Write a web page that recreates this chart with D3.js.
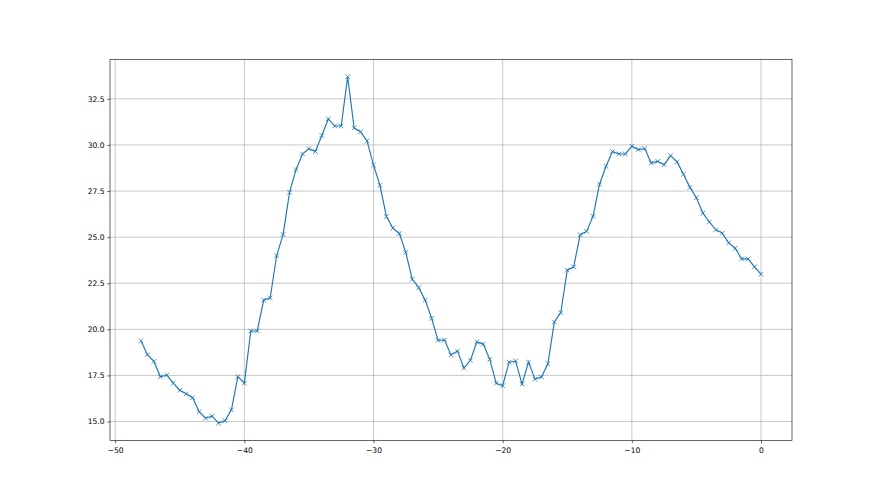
<!DOCTYPE html>
<html>
<head>
<meta charset="utf-8">
<script src="https://cdn.jsdelivr.net/npm/d3@7"></script>
<style>
  body { margin: 0; background: #fff; }
  svg { display: block; }
  .tick text { font-family: "DejaVu Sans", sans-serif; font-size: 7.6px; fill: #000; }
</style>
</head>
<body>
<div id="chart"></div>
<script>
const width = 880;
const height = 495;
const margin = {top: 59.4, right: 88, bottom: 54.5, left: 110};

// x positions: -48 .. 0 every half step
const xValues = [
  -48, -47.5, -47, -46.5, -46, -45.5, -45, -44.5, -44, -43.5, -43, -42.5, -42, -41.5, -41, -40.5,
  -40, -39.5, -39, -38.5, -38, -37.5, -37, -36.5, -36, -35.5, -35, -34.5, -34, -33.5, -33, -32.5,
  -32, -31.5, -31, -30.5, -30, -29.5, -29, -28.5, -28, -27.5, -27, -26.5, -26, -25.5, -25, -24.5,
  -24, -23.5, -23, -22.5, -22, -21.5, -21, -20.5, -20, -19.5, -19, -18.5, -18, -17.5, -17, -16.5,
  -16, -15.5, -15, -14.5, -14, -13.5, -13, -12.5, -12, -11.5, -11, -10.5, -10, -9.5, -9, -8.5,
  -8, -7.5, -7, -6.5, -6, -5.5, -5, -4.5, -4, -3.5, -3, -2.5, -2, -1.5, -1, -0.5, 0
];

const yValues = [
  19.38, 18.62, 18.26, 17.43, 17.52, 17.08, 16.70, 16.50, 16.29, 15.53, 15.18, 15.29, 14.91, 15.04, 15.63, 17.43,
  17.08, 19.91, 19.91, 21.59, 21.70, 23.99, 25.14, 27.43, 28.66, 29.51, 29.80, 29.64, 30.51, 31.41, 31.03, 31.03,
  33.70, 30.92, 30.72, 30.22, 28.91, 27.81, 26.12, 25.49, 25.20, 24.17, 22.72, 22.26, 21.59, 20.60, 19.40, 19.42,
  18.61, 18.82, 17.90, 18.32, 19.31, 19.20, 18.37, 17.08, 16.94, 18.22, 18.28, 17.03, 18.22, 17.30, 17.41, 18.13,
  20.40, 20.91, 23.21, 23.39, 25.13, 25.31, 26.14, 27.87, 28.84, 29.64, 29.51, 29.51, 29.93, 29.75, 29.80, 29.02,
  29.11, 28.93, 29.42, 29.08, 28.41, 27.70, 27.14, 26.30, 25.82, 25.40, 25.22, 24.69, 24.40, 23.82, 23.82, 23.39, 22.99
];

const xTicks = [-50, -40, -30, -20, -10, 0];
const yTicks = [15, 17.5, 20, 22.5, 25, 27.5, 30, 32.5];

const data = xValues.map((x, i) => ({x: x, y: yValues[i]}));

const innerW = width - margin.left - margin.right;
const innerH = height - margin.top - margin.bottom;

// matplotlib style 5% margins
function padded(ext) {
  const d = (ext[1] - ext[0]) * 0.05;
  return [ext[0] - d, ext[1] + d];
}

const x = d3.scaleLinear()
  .domain(padded(d3.extent(xValues)))
  .range([0, innerW]);

const y = d3.scaleLinear()
  .domain(padded(d3.extent(yValues)))
  .range([innerH, 0]);

const svg = d3.select("#chart")
  .append("svg")
    .attr("width", width)
    .attr("height", height)
  .append("g")
    .attr("transform", "translate(" + margin.left + "," + margin.top + ")");

// grid
svg.append("g")
  .selectAll("line")
  .data(xTicks)
  .enter()
  .append("line")
    .attr("x1", d => x(d)).attr("x2", d => x(d))
    .attr("y1", 0).attr("y2", innerH)
    .attr("stroke", "#b0b0b0")
    .attr("stroke-width", 0.7);

svg.append("g")
  .selectAll("line")
  .data(yTicks)
  .enter()
  .append("line")
    .attr("x1", 0).attr("x2", innerW)
    .attr("y1", d => y(d)).attr("y2", d => y(d))
    .attr("stroke", "#b0b0b0")
    .attr("stroke-width", 0.7);

const fmtX = d => d3.format("d")(d).replace("-", "\u2212");

const xAxis = svg.append("g")
  .attr("transform", "translate(0," + innerH + ")")
  .call(d3.axisBottom(x).tickValues(xTicks).tickFormat(fmtX).tickSize(2.7).tickPadding(2.7));

const yAxis = svg.append("g")
  .call(d3.axisLeft(y).tickValues(yTicks).tickFormat(d3.format(".1f")).tickSize(2.7).tickPadding(2.7));

[xAxis, yAxis].forEach(a => {
  a.select(".domain").remove();
  a.selectAll(".tick line").attr("stroke", "#000").attr("stroke-width", 0.6);
});
xAxis.selectAll(".tick text").attr("dy", "0.9em");

// the line
const line = d3.line()
  .x(d => x(d.x))
  .y(d => y(d.y));

svg.append("path")
  .datum(data)
  .attr("d", line)
  .attr("fill", "none")
  .attr("stroke", "#1f77b4")
  .attr("stroke-width", 1.15);

// x markers
const m = 2.3;
svg.append("g")
  .selectAll("path")
  .data(data)
  .enter()
  .append("path")
    .attr("d", d => {
      const cx = x(d.x), cy = y(d.y);
      return "M" + (cx - m) + "," + (cy - m) + "L" + (cx + m) + "," + (cy + m) +
             "M" + (cx - m) + "," + (cy + m) + "L" + (cx + m) + "," + (cy - m);
    })
    .attr("stroke", "#1f77b4")
    .attr("stroke-width", 0.8)
    .attr("fill", "none");

// frame
svg.append("rect")
  .attr("width", innerW)
  .attr("height", innerH)
  .attr("fill", "none")
  .attr("stroke", "#000")
  .attr("stroke-width", 0.6);
</script>
</body>
</html>
